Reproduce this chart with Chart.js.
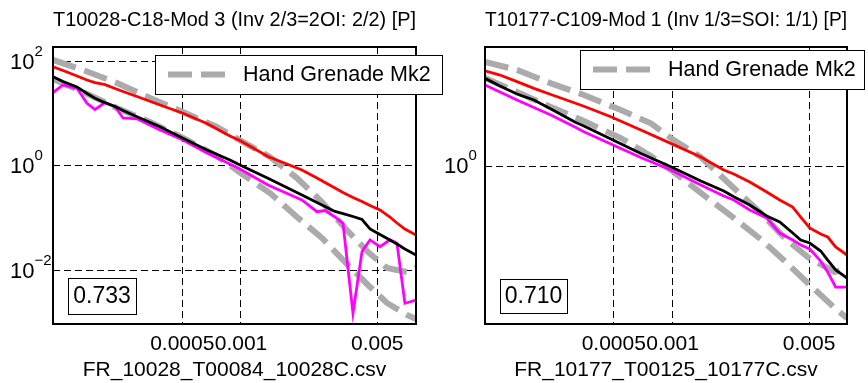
<!DOCTYPE html>
<html>
<head>
<meta charset="utf-8">
<script src="https://cdn.jsdelivr.net/npm/chart.js@4.4.0/dist/chart.umd.min.js"></script>
<style>
  html, body { margin: 0; padding: 0; background: #fff; }
  #wrap { position: relative; width: 868px; height: 383px; overflow: hidden; }
  #leftChart { position: absolute; left: 0; top: 0; }
  #rightChart { position: absolute; left: 434px; top: 0; }
</style>
</head>
<body>
<div id="wrap">
  <canvas id="leftChart" width="460" height="383"></canvas>
  <canvas id="rightChart" width="434" height="383"></canvas>
</div>
<script>
// ---- données ----
const xTicks = [0.0005, 0.001, 0.005];
const xTickLabels = ['0.0005', '0.001', '0.005'];
const legendLabel = 'Hand Grenade Mk2';

// panneau gauche
const leftTitle = 'T10028-C18-Mod 3 (Inv 2/3=2OI: 2/2) [P]';
const leftFile = 'FR_10028_T00084_10028C.csv';
const leftScore = '0.733';
const leftYTicks = [1e-2, 1, 1e2];
const leftX = [1.086e-4, 1.222e-4, 1.442e-4, 1.622e-4, 1.783e-4, 2.008e-4, 2.259e-4, 2.483e-4, 2.930e-4, 3.843e-4,
  5.043e-4, 6.69e-4, 8.78e-4, 9.88e-4, 1.375e-3, 2.054e-3, 2.453e-3, 2.697e-3, 3.034e-3, 3.336e-3,
  3.753e-3, 4.176e-3, 4.590e-3, 5.162e-3, 5.808e-3, 6.31e-3, 6.93e-3, 7.9e-3];
const leftRed = [79.5, 67.3, 52.8, 44.3, 39.6, 36.1, 30.4, 26.7, 21.4, 14.7,
  10.2, 6.51, 3.75, 3.08, 1.52, 0.838, 0.589, 0.483, 0.379, 0.311,
  0.249, 0.209, 0.175, 0.144, 0.1056, 0.0811, 0.0622, 0.0478];
const leftBlack = [51.2, 41.4, 32.5, 24.4, 19.8, 16.3, 13.8, 11.5, 8.78, 5.65,
  3.40, 2.02, 1.30, 1.04, 0.584, 0.279, 0.200, 0.168, 0.135, 0.123,
  0.108, 0.0946, 0.0622, 0.0489, 0.0384, 0.0321, 0.0258, 0.0198];
const leftMagenta = [25.5, 35.5, 30.7, 15.8, 12.1, 16.3, 13.6, 8.29, 8.00, 4.89,
  3.15, 1.77, 1.09, 0.877, 0.433, 0.224, 0.1334, 0.1407, 0.1056, 0.0800,
  0.00152, 0.0231, 0.0384, 0.0285, 0.0384, 0.0332, 0.00236, 0.00272];
const leftGrayX = [1.086e-4, 1.548e-4, 2.312e-4, 3.415e-4, 5.043e-4, 7.53e-4, 1.048e-3, 1.408e-3,
  1.937e-3, 2.602e-3, 3.413e-3, 4.48e-3, 5.61e-3, 7.10e-3, 7.9e-3];
const leftGrayHigh = [107, 68.8, 38.8, 20.0, 10.8, 5.58, 2.75, 1.49, 0.589, 0.205, 0.0651, 0.0226, 0.0112, 0.00936, 0.0112];
const leftGrayLow = [46.2, 26.1, 12.9, 6.95, 3.43, 1.55, 0.644, 0.304, 0.1056, 0.0419, 0.0146, 0.00528, 0.00239, 0.00141, 0.00118];

// panneau droit
const rightTitle = 'T10177-C109-Mod 1 (Inv 1/3=SOI: 1/1) [P]';
const rightFile = 'FR_10177_T00125_10177C.csv';
const rightScore = '0.710';
const rightYTicks = [1];
const rightX = [1.096e-4, 1.308e-4, 1.598e-4, 1.952e-4, 2.384e-4, 3.164e-4, 3.517e-4, 4.835e-4, 6.885e-4, 9.80e-4,
  1.396e-3, 1.830e-3, 2.059e-3, 2.486e-3, 3.037e-3, 3.539e-3, 4.124e-3, 4.532e-3, 5.039e-3, 5.735e-3,
  6.229e-3, 6.843e-3, 7.82e-3];
const rightRed = [14.2, 12.6, 10.5, 8.70, 7.32, 5.78, 5.29, 3.95, 2.72, 1.88,
  1.285, 0.895, 0.800, 0.640, 0.485, 0.388, 0.319, 0.2416, 0.178, 0.1506,
  0.1385, 0.1049, 0.0839];
const rightBlack = [11.5, 9.28, 7.42, 6.28, 4.89, 3.40, 3.05, 2.12, 1.42, 0.981,
  0.659, 0.498, 0.425, 0.3376, 0.2485, 0.2103, 0.1548, 0.1274, 0.1172, 0.0938,
  0.0730, 0.0553, 0.0442];
const rightMagenta = [9.54, 7.85, 6.28, 5.10, 4.14, 2.96, 2.60, 1.845, 1.267, 0.895,
  0.589, 0.434, 0.388, 0.294, 0.235, 0.1548, 0.1274, 0.1108, 0.0992, 0.0710,
  0.0523, 0.0344, 0.0344];
const rightGrayX = [1.096e-4, 1.598e-4, 2.384e-4, 3.517e-4, 5.437e-4, 7.74e-4, 1.015e-3, 1.396e-3,
  2.034e-3, 2.862e-3, 3.752e-3, 4.921e-3, 6.763e-3, 7.82e-3];
const rightGrayHigh = [18.2, 14.5, 10.0, 7.22, 4.75, 3.28, 2.06, 1.285, 0.557, 0.263, 0.1347, 0.0793, 0.0523, 0.0584];
const rightGrayLow = [11.6, 7.85, 5.17, 3.50, 2.18, 1.32, 0.846, 0.472, 0.2416, 0.1274, 0.0710, 0.0385, 0.0192, 0.0145];

// ---- style ----
const FONT = "'Liberation Sans', Arial, Helvetica, sans-serif";
const GRAY = '#ababab';
Chart.defaults.font.family = FONT;
Chart.defaults.color = '#000';

function pts(xs, ys) {
  return xs.map((x, i) => ({ x: x, y: ys[i] }));
}

// cadre, étiquettes 10^n, légende et boîte du score
const panelDecor = {
  id: 'panelDecor',
  afterDraw(chart, args, opts) {
    const ctx = chart.ctx;
    const a = chart.chartArea;
    const yScale = chart.scales.y;
    ctx.save();

    // cadre des axes
    ctx.strokeStyle = '#000';
    ctx.lineWidth = 2;
    ctx.setLineDash([]);
    ctx.strokeRect(a.left, a.top, a.right - a.left, a.bottom - a.top);

    // étiquettes de l'axe y
    ctx.fillStyle = '#000';
    ctx.textAlign = 'left';
    ctx.textBaseline = 'middle';
    opts.yTicks.forEach(v => {
      const y = yScale.getPixelForValue(v);
      const exp = Math.round(Math.log10(v));
      ctx.font = '22px ' + FONT;
      ctx.fillText('10', 10, y + 1);
      const w = ctx.measureText('10').width;
      ctx.font = '15px ' + FONT;
      ctx.fillText(String(exp).replace('-', '\u2212'), 10 + w, y - 10);
    });

    // légende
    const lg = opts.legend;
    ctx.fillStyle = '#fff';
    ctx.fillRect(lg.x, lg.y, lg.w, lg.h);
    ctx.lineWidth = 1;
    ctx.strokeStyle = '#000';
    ctx.strokeRect(lg.x + 0.5, lg.y + 0.5, lg.w, lg.h);
    const cy = lg.y + lg.h / 2;
    ctx.strokeStyle = GRAY;
    ctx.lineWidth = 6;
    ctx.setLineDash([24, 9]);
    ctx.beginPath();
    ctx.moveTo(lg.x + 13, cy);
    ctx.lineTo(lg.x + 76, cy);
    ctx.stroke();
    ctx.setLineDash([]);
    ctx.fillStyle = '#000';
    ctx.font = '21.5px ' + FONT;
    ctx.textBaseline = 'middle';
    ctx.fillText(chart.data.datasets[3].label, lg.x + 88, cy + 1);

    // score
    const sb = opts.scoreBox;
    ctx.fillStyle = '#fff';
    ctx.fillRect(sb.x, sb.y, sb.w, sb.h);
    ctx.strokeStyle = '#000';
    ctx.lineWidth = 1;
    ctx.strokeRect(sb.x + 0.5, sb.y + 0.5, sb.w, sb.h);
    ctx.fillStyle = '#000';
    ctx.textAlign = 'center';
    ctx.font = '23px ' + FONT;
    ctx.fillText(opts.score, sb.x + sb.w / 2, sb.y + sb.h / 2 + 1);

    ctx.restore();
  }
};

function makePanel(id, p) {
  const ctx = document.getElementById(id).getContext('2d');
  return new Chart(ctx, {
    type: 'line',
    data: {
      datasets: [
        { label: 'rouge', data: pts(p.x, p.red), borderColor: '#ff0000', borderWidth: 2.8 },
        { label: 'noir', data: pts(p.x, p.black), borderColor: '#000000', borderWidth: 2.8 },
        { label: 'magenta', data: pts(p.x, p.magenta), borderColor: '#ff00ff', borderWidth: 2.8 },
        { label: legendLabel, data: pts(p.grayX, p.grayHigh), borderColor: GRAY, borderWidth: 6, borderDash: [24, 9] },
        { label: legendLabel + ' (bas)', data: pts(p.grayX, p.grayLow), borderColor: GRAY, borderWidth: 6, borderDash: [24, 9] }
      ]
    },
    options: {
      responsive: false,
      animation: false,
      events: [],
      devicePixelRatio: 1,
      elements: {
        point: { radius: 0 },
        line: { tension: 0, fill: false, borderCapStyle: 'butt' }
      },
      layout: { padding: { left: 0, right: p.padRight, top: 0, bottom: 0 } },
      plugins: {
        legend: { display: false },
        tooltip: { enabled: false },
        title: {
          display: true,
          text: p.title,
          fullSize: false,
          color: '#000',
          font: { size: 21, weight: 'normal' },
          padding: { top: 8, bottom: 13.8 }
        },
        panelDecor: {
          yTicks: p.yTicks,
          score: p.score,
          legend: p.legendBox,
          scoreBox: p.scoreBox
        }
      },
      scales: {
        x: {
          type: 'logarithmic',
          position: 'bottom',
          min: p.xMin,
          max: p.xMax,
          bounds: 'data',
          afterBuildTicks: s => { s.ticks = xTicks.map(v => ({ value: v })); },
          afterFit: s => { s.height = 59; },
          grid: { color: '#000', lineWidth: 1, drawTicks: false },
          border: { display: false, dash: [7, 4] },
          ticks: {
            autoSkip: false,
            maxRotation: 0,
            minRotation: 0,
            padding: 8,
            font: { size: 21 },
            color: '#000',
            callback: (v, i) => xTickLabels[i]
          },
          title: {
            display: true,
            text: p.file,
            color: '#000',
            font: { size: 21 },
            padding: { top: 0, bottom: 0 }
          }
        },
        y: {
          type: 'logarithmic',
          min: p.yMin,
          max: p.yMax,
          bounds: 'data',
          afterBuildTicks: s => { s.ticks = p.yTicks.map(v => ({ value: v })); },
          afterFit: s => { s.width = p.axisLeft; },
          grid: { color: '#000', lineWidth: 1, drawTicks: false },
          border: { display: false, dash: [7, 4] },
          ticks: { display: false }
        }
      }
    },
    plugins: [panelDecor]
  });
}

makePanel('leftChart', {
  title: leftTitle, file: leftFile, score: leftScore, yTicks: leftYTicks,
  x: leftX, red: leftRed, black: leftBlack, magenta: leftMagenta,
  grayX: leftGrayX, grayHigh: leftGrayHigh, grayLow: leftGrayLow,
  xMin: 1.086e-4, xMax: 7.9e-3, yMin: 9.46e-4, yMax: 189.5,
  axisLeft: 53, padRight: 44,
  legendBox: { x: 155, y: 55, w: 287, h: 39 },
  scoreBox: { x: 68, y: 278, w: 68, h: 36 }
});

makePanel('rightChart', {
  title: rightTitle, file: rightFile, score: rightScore, yTicks: rightYTicks,
  x: rightX, red: rightRed, black: rightBlack, magenta: rightMagenta,
  grayX: rightGrayX, grayHigh: rightGrayHigh, grayLow: rightGrayLow,
  xMin: 1.096e-4, xMax: 7.82e-3, yMin: 0.01229, yMax: 27.5,
  axisLeft: 51, padRight: 21,
  legendBox: { x: 146, y: 50, w: 284, h: 39 },
  scoreBox: { x: 66, y: 279, w: 67, h: 34 }
});
</script>
</body>
</html>
